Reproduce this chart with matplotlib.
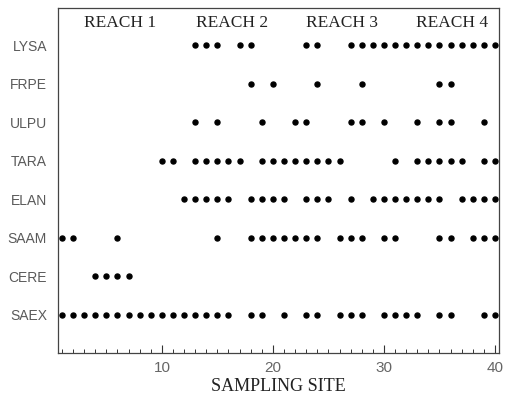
"""
Species occurrence along the river: presence dots per sampling site,
grouped into four reaches.
"""
import matplotlib
matplotlib.use("Agg")
import matplotlib.pyplot as plt
from matplotlib.ticker import MultipleLocator

# sites (1-40) where each species was recorded
lysa = [13, 14, 15, 17, 18, 23, 24] + list(range(27, 41))
frpe = [18, 20, 24, 28, 35, 36]
ulpu = [13, 15, 19, 22, 23, 27, 28, 30, 33, 35, 36, 39]
tara = [10, 11, 13, 14, 15, 16, 17, 19, 20, 21, 22, 23, 24, 25, 26,
        31, 33, 34, 35, 36, 37, 39, 40]
elan = [12, 13, 14, 15, 16, 18, 19, 20, 21, 23, 24, 25, 27,
        29, 30, 31, 32, 33, 34, 35, 37, 38, 39, 40]
saam = [1, 2, 6, 15, 18, 19, 20, 21, 22, 23, 24, 26, 27, 28,
        30, 31, 35, 36, 38, 39, 40]
cere = [4, 5, 6, 7]
saex = list(range(1, 17)) + [18, 19, 21, 23, 24, 26, 27, 28,
                             30, 31, 32, 33, 35, 36, 39, 40]

species = ["SAEX", "CERE", "SAAM", "ELAN", "TARA", "ULPU", "FRPE", "LYSA"]
records = [saex, cere, saam, elan, tara, ulpu, frpe, lysa]
reaches = ["REACH 1", "REACH 2", "REACH 3", "REACH 4"]
reach_mid = [6.2, 16.3, 26.2, 36.1]

fig = plt.figure(figsize=(5.06, 4.04), dpi=100)
ax = fig.add_axes([0.1146, 0.126, 0.8714, 0.854])

for row, sites in enumerate(records, start=1):
    ax.plot(sites, [row] * len(sites), ls="none", marker="o",
            ms=3.6, color="black", mec="black")

for lab, xm in zip(reaches, reach_mid):
    ax.text(xm, 8.58, lab, ha="center", va="center", fontsize=12.5,
            family="Liberation Serif", color="#222222")

ax.set_xlim(0.64, 40.36)
ax.set_ylim(0.0, 8.97)
ax.set_yticks(range(1, len(species) + 1))
ax.set_yticklabels(species, fontsize=10, color="#5a5a5a",
                   family="Liberation Sans")
ax.tick_params(axis="y", length=0, pad=8)

ax.xaxis.set_major_locator(MultipleLocator(10))
ax.xaxis.set_minor_locator(MultipleLocator(1))
ax.tick_params(axis="x", which="major", direction="in", length=6,
               width=0.8, color="#333333", labelsize=11, labelcolor="#666666",
               pad=6)
ax.tick_params(axis="x", which="minor", direction="in", length=3,
               width=0.7, color="#333333")
for t in ax.get_xticklabels():
    t.set_family("Liberation Sans")
ax.set_xlabel("SAMPLING SITE", fontsize=13, family="Liberation Serif",
              color="#222222", labelpad=2)

for s in ax.spines.values():
    s.set_color("#444444")
    s.set_linewidth(0.9)

fig.savefig("out.png", dpi=100)
